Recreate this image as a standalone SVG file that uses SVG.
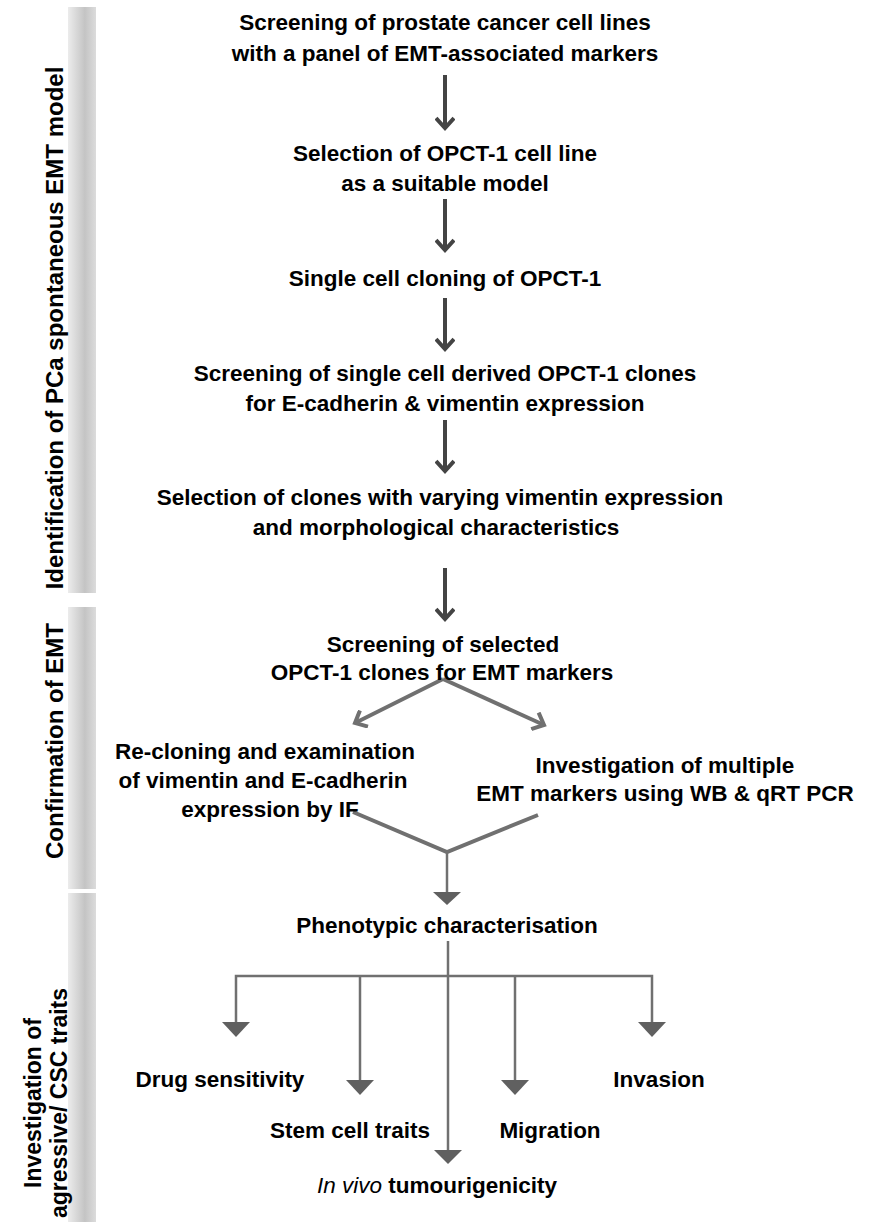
<svg xmlns="http://www.w3.org/2000/svg" width="870" height="1222" viewBox="0 0 870 1222">
<defs>
<linearGradient id="barg" x1="0" y1="0" x2="1" y2="0">
<stop offset="0" stop-color="#ececec"/>
<stop offset="0.6" stop-color="#c4c4c4"/>
<stop offset="1" stop-color="#dcdcdc"/>
</linearGradient>
<marker id="chev" viewBox="0 0 20 20" refX="15" refY="10" markerWidth="20" markerHeight="20" markerUnits="userSpaceOnUse" orient="auto">
<path d="M5,1 L15,10 L5,19" fill="none" stroke="#444" stroke-width="4"/>
</marker>
<marker id="chevg" viewBox="0 0 20 20" refX="15" refY="10" markerWidth="20" markerHeight="20" markerUnits="userSpaceOnUse" orient="auto">
<path d="M5,1 L15,10 L5,19" fill="none" stroke="#707070" stroke-width="4"/>
</marker>
</defs>
<style>
.t{font-family:"Liberation Sans",Arial,sans-serif;font-weight:bold;font-size:22.5px;fill:#000;text-anchor:middle}
.side{font-family:"Liberation Sans",Arial,sans-serif;font-weight:bold;font-size:24px;fill:#000;text-anchor:middle}
.side3{font-family:"Liberation Sans",Arial,sans-serif;font-weight:bold;font-size:23px;fill:#000;text-anchor:middle}
.dark{stroke:#444;stroke-width:4;fill:none}
.gray{stroke:#707070;stroke-width:4;fill:none}
.thin{stroke:#707070;stroke-width:2.5;fill:none}
.tri{fill:#606060}
.bar{fill:url(#barg)}
</style>
<rect width="870" height="1222" fill="#fff"/>
<g id="side-bars">
<rect class="bar" x="68" y="7" width="28" height="586"/>
<rect class="bar" x="68" y="607" width="28" height="282"/>
<rect class="bar" x="68" y="893" width="28" height="329"/>
</g>
<g id="side-labels">
<text class="side" transform="translate(63,328) rotate(-90)">Identification of PCa spontaneous EMT model</text>
<text class="side" transform="translate(63,741) rotate(-90)">Confirmation of EMT</text>
<text class="side3" transform="translate(41,1103) rotate(-90)">Investigation of</text>
<text class="side3" transform="translate(67,1103) rotate(-90)">agressive/ CSC traits</text>
</g>
<g id="connectors">
<line class="dark" x1="445" y1="75" x2="445" y2="128" marker-end="url(#chev)"/>
<line class="dark" x1="445" y1="199" x2="445" y2="250" marker-end="url(#chev)"/>
<line class="dark" x1="445" y1="298" x2="445" y2="349" marker-end="url(#chev)"/>
<line class="dark" x1="445" y1="420" x2="445" y2="471" marker-end="url(#chev)"/>
<line class="dark" x1="445" y1="568" x2="445" y2="619" marker-end="url(#chev)"/>
<line class="gray" x1="443" y1="679" x2="355" y2="723" marker-end="url(#chevg)"/>
<line class="gray" x1="443" y1="679" x2="544" y2="725" marker-end="url(#chevg)"/>
<polyline class="gray" points="353,812 447,852 538,815"/>
<line class="thin" x1="447" y1="852" x2="447" y2="893"/>
<polygon class="tri" points="433,892 461,892 447,905"/>
<line class="thin" x1="448" y1="941" x2="448" y2="1152"/>
<polyline class="thin" points="236,1022 236,976 652,976 652,1022"/>
<line class="thin" x1="360" y1="976" x2="360" y2="1081"/>
<line class="thin" x1="515" y1="976" x2="515" y2="1081"/>
<polygon class="tri" points="222,1022 250,1022 236,1037"/>
<polygon class="tri" points="346,1080 374,1080 360,1095"/>
<polygon class="tri" points="434,1150 462,1150 448,1164"/>
<polygon class="tri" points="501,1080 529,1080 515,1095"/>
<polygon class="tri" points="638,1022 666,1022 652,1037"/>
</g>
<g id="n1"><text class="t" x="445" y="30">Screening of prostate cancer cell lines</text><text class="t" x="445" y="61">with a panel of EMT-associated markers</text></g>
<g id="n2"><text class="t" x="445" y="161">Selection of OPCT-1 cell line</text><text class="t" x="445" y="191">as a suitable model</text></g>
<g id="n3"><text class="t" x="445" y="286">Single cell cloning of OPCT-1</text></g>
<g id="n4"><text class="t" x="445" y="381">Screening of single cell derived OPCT-1 clones</text><text class="t" x="445" y="411">for E-cadherin &amp; vimentin expression</text></g>
<g id="n5"><text class="t" x="440" y="505">Selection of clones with varying vimentin expression</text><text class="t" x="436" y="535">and morphological characteristics</text></g>
<g id="n6"><text class="t" x="443" y="652">Screening of selected</text><text class="t" x="442" y="680">OPCT-1 clones for EMT markers</text></g>
<g id="n7"><text class="t" x="265" y="759">Re-cloning and examination</text><text class="t" x="263" y="788">of vimentin and E-cadherin</text><text class="t" x="270" y="817">expression by IF</text></g>
<g id="n8"><text class="t" x="665" y="773">Investigation of multiple</text><text class="t" x="665" y="801">EMT markers using WB &amp; qRT PCR</text></g>
<g id="n9"><text class="t" x="447" y="933">Phenotypic characterisation</text></g>
<g id="n10"><text class="t" x="220" y="1087">Drug sensitivity</text></g>
<g id="n11"><text class="t" x="350" y="1138">Stem cell traits</text></g>
<g id="n12"><text class="t" x="550" y="1138">Migration</text></g>
<g id="n13"><text class="t" x="659" y="1087">Invasion</text></g>
<g id="n14"><text class="t" x="437" y="1193"><tspan font-style="italic" font-weight="normal">In vivo</tspan> tumourigenicity</text></g>
</svg>
